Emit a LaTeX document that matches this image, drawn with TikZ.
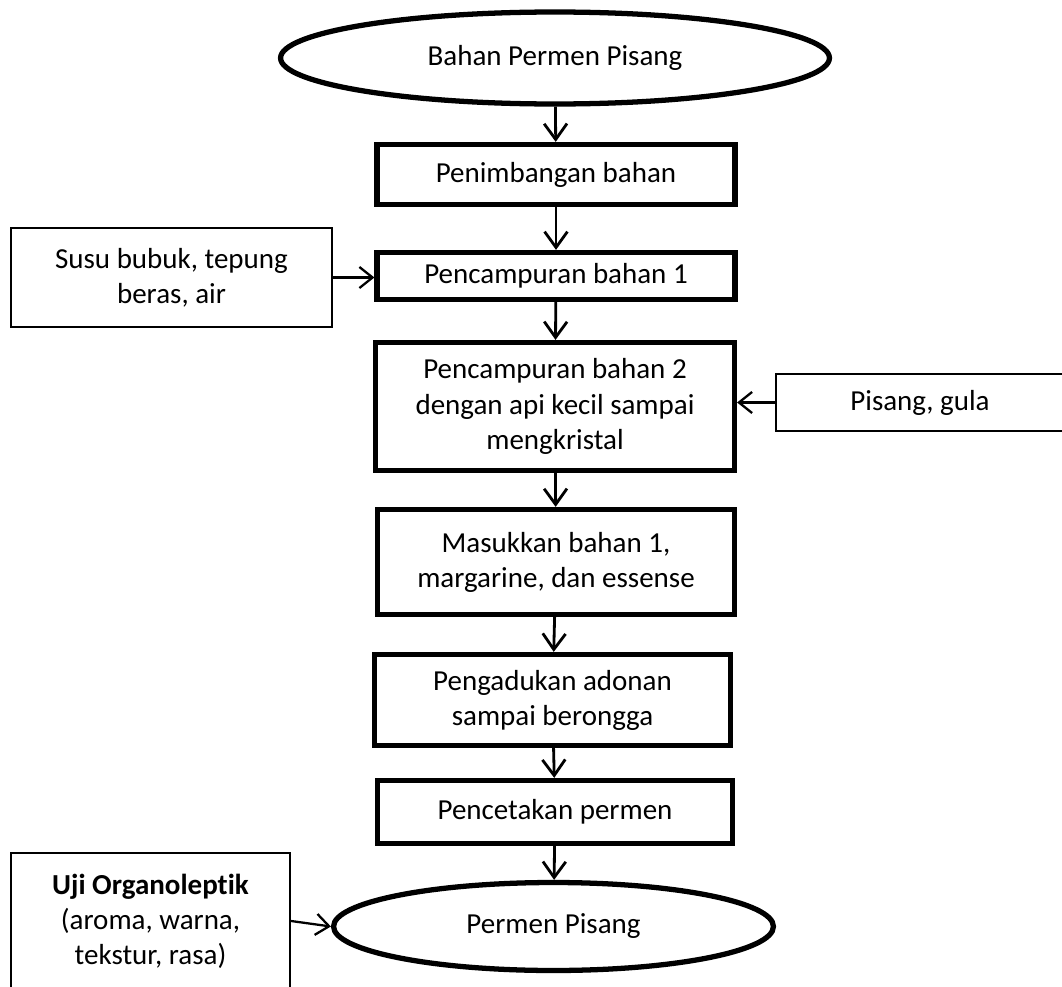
\documentclass[tikz,border=0pt]{standalone}
\usepackage{fontspec}
\setmainfont{Carlito}[Ligatures=NoCommon]
\usepackage{tikz}
\usetikzlibrary{arrows.meta,positioning,calc,shapes.geometric}

\begin{document}
\begin{tikzpicture}[
      x=0.02cm, y=-0.02cm,
      every node/.style={font=\fontsize{16.5}{20}\selectfont, align=center},
      terminal/.style={ellipse,draw,line width=3pt,inner sep=0pt},
      proses/.style={rectangle,draw,line width=3pt,inner sep=0pt},
      masukan/.style={rectangle,draw,line width=1.3pt,inner sep=0pt},
      flow/.style={line width=1.6pt,-{Straight Barb[length=9pt,width=13pt,line width=1.6pt]}},
      feed/.style={line width=1.3pt,-{Straight Barb[length=7.5pt,width=12pt,line width=1.3pt]}}
  ]

  % ukuran gambar
  \clip (0,0) rectangle (1062,987);

  % ===================== alur utama =====================
  \node[terminal,minimum width=10.98cm,minimum height=1.84cm] (mulai) at (555,58) {Bahan Permen Pisang};

  \node[proses,minimum width=7.16cm,minimum height=1.2cm] (timbang) at (556,174.5) {Penimbangan bahan};

  \node[proses,minimum width=7.16cm,minimum height=0.94cm] (campur1) at (556,276) {Pencampuran bahan 1};

  \node[proses,minimum width=7.18cm,minimum height=2.56cm] (campur2) at (555,406.5)
      {Pencampuran bahan 2\\dengan api kecil sampai\\mengkristal};

  \node[proses,minimum width=7.14cm,minimum height=2.1cm] (masuk) at (556,562)
      {Masukkan bahan 1,\\margarine, dan essense};

  \node[proses,minimum width=7.12cm,minimum height=1.82cm] (aduk) at (552.5,700)
      {Pengadukan adonan\\sampai berongga};

  \node[proses,minimum width=7.1cm,minimum height=1.26cm] (cetak) at (555,812) {Pencetakan permen};

  \node[terminal,minimum width=8.8cm,minimum height=1.76cm] (hasil) at (553.5,926.5) {Permen Pisang};

  % ===================== bahan masukan =====================
  \node[masukan,minimum width=6.42cm,minimum height=1.98cm] (susu) at (171.5,277.5)
      {Susu bubuk, tepung\\beras, air};

  \node[masukan,minimum width=5.76cm,minimum height=1.14cm] (pisang) at (920,402.5) {Pisang, gula};

  \node[masukan,minimum width=5.58cm,minimum height=2.72cm] (uji) at (150.5,921)
      {\textbf{Uji Organoleptik}\\(aroma, warna,\\tekstur, rasa)};

  % ===================== panah =====================
  \draw[flow] (mulai) -- (timbang);
  \draw[flow] (timbang) -- (campur1);
  \draw[flow] (campur1) -- (campur2);
  \draw[flow] (campur2) -- (masuk);
  \draw[flow] (masuk) -- (aduk);
  \draw[flow] (aduk) -- (cetak);
  \draw[flow] (cetak) -- (hasil);

  \draw[feed] (susu.east) -- (susu.east -| campur1.west);
  \draw[feed] (pisang.west) -- (pisang.west -| campur2.east);
  \draw[feed] (uji.east) -- (hasil.west);

\end{tikzpicture}
\end{document}
